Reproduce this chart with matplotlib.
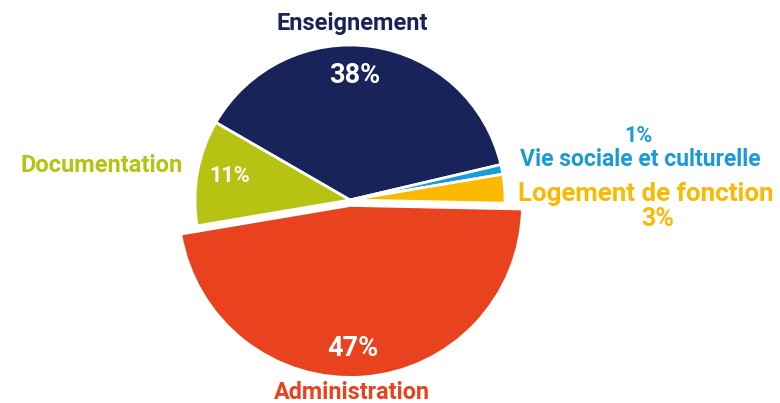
import matplotlib
matplotlib.use("Agg")
import matplotlib.pyplot as plt

categories = ["Enseignement", "Vie sociale et culturelle", "Logement de fonction",
              "Administration", "Documentation"]
values = [38, 1, 3, 47, 11]
pct_labels = ["38%", "1%", "3%", "47%", "11%"]
colors = ["#18235a", "#1a9bd7", "#fbb900", "#e8421e", "#b6c312"]

R = 155.0  # pixels per unit radius
CX, CY = 350.0, 200.0  # pie centre in pixels (from top-left)

def d(px, py):
    return ((px - CX) / R, (CY - py) / R)

fig = plt.figure(figsize=(7.8, 4.03), dpi=100)
ax = fig.add_axes([0, 0, 1, 1])

explode = [0, 0, 0, 0.035, 0]
wedges, _ = ax.pie(values, colors=colors, startangle=150, counterclock=False,
                   explode=explode, radius=1.0,
                   wedgeprops=dict(edgecolor="white", linewidth=2))
wedges[3].set_radius(1.11)

ax.set_xlim(-CX / R, (780 - CX) / R)
ax.set_ylim((CY - 403) / R, CY / R)
ax.set_aspect("equal")
ax.axis("off")

font = ["Roboto", "DejaVu Sans"]

# percentage labels inside / near slices
inside = {0: (d(355, 75), 19.5), 4: (d(230, 176), 15.5), 3: (d(353, 349), 19.5)}
for i, (pos, fs) in inside.items():
    ax.text(*pos, pct_labels[i], color="white", fontsize=fs, fontweight="bold",
            ha="center", va="center", family=font)

# category labels
cat_pos = {0: (d(352, 23), 17), 4: (d(102, 166), 17),
           3: (d(352, 393), 16.8), 1: (d(640, 159), 16.5), 2: (d(646, 194), 18.6)}
for i, (pos, fs) in cat_pos.items():
    ax.text(*pos, categories[i], color=colors[i], fontsize=fs, fontweight="bold",
            ha="center", va="center", family=font)

ax.text(*d(638, 136), pct_labels[1], color=colors[1], fontsize=15.5, fontweight="bold",
        ha="center", va="center", family=font)
ax.text(*d(658, 219), pct_labels[2], color=colors[2], fontsize=18, fontweight="bold",
        ha="center", va="center", family=font)

fig.savefig("out.png", dpi=100)
